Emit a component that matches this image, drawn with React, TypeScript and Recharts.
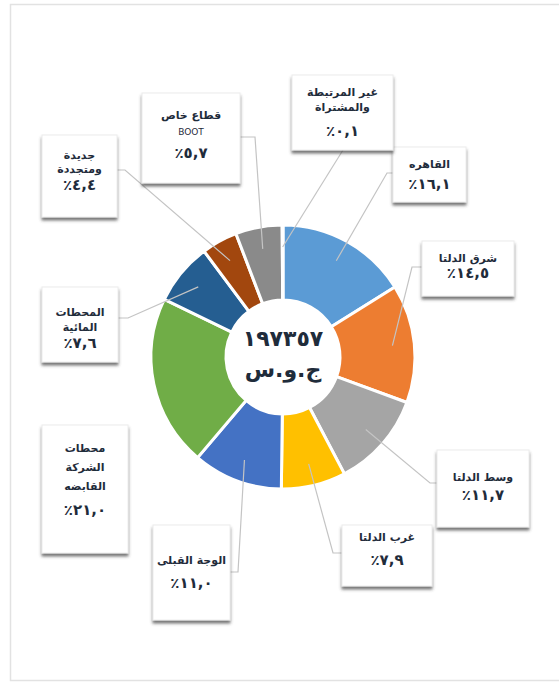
import { PieChart, Pie, Cell } from "recharts";

// share of generated energy by sector, %
const sectors = [
  "القاهره",
  "شرق الدلتا",
  "وسط الدلتا",
  "غرب الدلتا",
  "الوجة القبلى",
  "محطات الشركة القابضه",
  "المحطات المائية",
  "جديدة ومتجددة",
  "قطاع خاص BOOT",
  "غير المرتبطة والمشتراة",
];
const shares = [16.1, 14.5, 11.7, 7.9, 11.0, 21.0, 7.6, 4.4, 5.7, 0.1];
const labelLines = [
  ["القاهره"],
  ["شرق الدلتا"],
  ["وسط الدلتا"],
  ["غرب الدلتا"],
  ["الوجة القبلى"],
  ["محطات", "الشركة", "القابضه"],
  ["المحطات", "المائية"],
  ["جديدة", "ومتجددة"],
  ["قطاع خاص", "BOOT"],
  ["غير المرتبطة", "والمشتراة"],
];
const colors = [
  "#5b9bd5", "#ed7d31", "#a5a5a5", "#ffc000", "#4472c4",
  "#70ad47", "#255e91", "#a2470e", "#8a8a8a", "#997300",
];
const totalValue = "١٩٧٣٥٧";
const totalUnit = "ج.و.س";

// callout boxes: position, text rows, leader elbow
const boxes = [
  { x: 393, y: 147, w: 73, h: 55, t: 164, gap: 0, p: 184, ex: 387, ey: 173 },
  { x: 422, y: 241, w: 92, h: 55, t: 258, gap: 0, p: 273, ex: 412, ey: 267 },
  { x: 437, y: 450, w: 92, h: 77, t: 477, gap: 0, p: 495, ex: 430, ey: 483 },
  { x: 342, y: 525, w: 90, h: 61, t: 537, gap: 0, p: 560, ex: 333, ey: 553 },
  { x: 153, y: 525, w: 77, h: 95, t: 560, gap: 0, p: 583, ex: 238, ey: 572 },
  { x: 42, y: 425, w: 86, h: 128, t: 448, gap: 19, p: 510, ex: null, ey: null },
  { x: 42, y: 287, w: 76, h: 75, t: 312, gap: 15, p: 343, ex: 128, ey: 318 },
  { x: 42, y: 135, w: 75, h: 82, t: 155, gap: 14, p: 185, ex: 125, ey: 170 },
  { x: 142, y: 93, w: 98, h: 90, t: 115, gap: 17, p: 153, ex: 255, ey: 137 },
  { x: 292, y: 75, w: 101, h: 75, t: 92, gap: 15, p: 131, ex: 343, ey: 150 },
];

const data = sectors.map((name, i) => ({ name, value: shares[i] }));

const RAD = Math.PI / 180;
const FONT = "'DejaVu Sans', sans-serif";
const INK = "#1f2c3b";

function arPct(v: number) {
  const s = v.toFixed(1).replace(".", ",").replace(/\d/g, (d) => "٠١٢٣٤٥٦٧٨٩"[+d]);
  return "٪" + s;
}

function Callout(props: any) {
  const { cx, cy, midAngle, index } = props;
  const b = boxes[index];
  const r = 110;
  const sx = cx + r * Math.cos(-midAngle * RAD);
  const sy = cy + r * Math.sin(-midAngle * RAD);

  let path = "";
  if (b.ex != null) {
    let endX = b.ex;
    if (b.ex < b.x) endX = b.x;
    else if (b.ex > b.x + b.w) endX = b.x + b.w;
    path = `M${sx},${sy}L${b.ex},${b.ey}L${endX},${b.ey}`;
  }
  const mid = b.x + b.w / 2;

  return (
    <g>
      {index === 0 && (
        <g>
          <text x={cx} y={cy - 19} textAnchor="middle" dominantBaseline="central"
            style={{ fill: INK, fontSize: 22, fontWeight: 700, fontFamily: FONT }}>
            {totalValue}
          </text>
          <text x={cx} y={cy + 12} textAnchor="middle" dominantBaseline="central"
            style={{ fill: INK, fontSize: 22, fontWeight: 700, fontFamily: FONT }}>
            {totalUnit}
          </text>
        </g>
      )}
      {path && <path d={path} fill="none" stroke="#c4c4c4" strokeWidth={1.2} />}
      <rect x={b.x} y={b.y} width={b.w} height={b.h} fill="#fff" stroke="#ececec"
        strokeWidth={1} filter="url(#boxShadow)" />
      {labelLines[index].map((line, k) => (
        <text key={k} x={mid} y={b.t + k * b.gap} textAnchor="middle" dominantBaseline="central"
          style={{
            fill: INK,
            fontSize: line === "BOOT" ? 9 : 11,
            fontWeight: line === "BOOT" ? 400 : 700,
            fontFamily: FONT,
          }}>
          {line}
        </text>
      ))}
      <text x={mid} y={b.p} textAnchor="middle" dominantBaseline="central"
        style={{ fill: INK, fontSize: 15, fontWeight: 700, fontFamily: FONT }}>
        {arPct(shares[index])}
      </text>
    </g>
  );
}

export default function App() {
  return (
    <div style={{ position: "absolute", left: 0, top: 0, width: 559, height: 683, background: "#fff" }}>
      <svg width={0} height={0} style={{ position: "absolute" }}>
        <defs>
          <filter id="boxShadow" x="-20%" y="-20%" width="140%" height="150%">
            <feDropShadow dx="0" dy="3" stdDeviation="1.6" floodColor="#3c3c3c" floodOpacity="0.7" />
          </filter>
        </defs>
      </svg>
      <svg width={559} height={683} style={{ position: "absolute", left: 0, top: 0 }}>
        <rect x={10.5} y={4.5} width={560} height={676} fill="none" stroke="#e2e2e2" strokeWidth={1.5} />
      </svg>
      <div style={{ position: "absolute", left: 0, top: 0 }}>
        {/* pie cx/cy are measured inside the default 5px chart margin */}
        <PieChart width={559} height={683}>
          <Pie
            data={data}
            dataKey="value"
            nameKey="name"
            cx={278}
            cy={352}
            innerRadius={57}
            outerRadius={132}
            startAngle={90}
            endAngle={-270}
            stroke="#fff"
            strokeWidth={3}
            label={Callout}
            labelLine={false}
            isAnimationActive={false}
          >
            {data.map((d, i) => (
              <Cell key={d.name} fill={colors[i]} />
            ))}
          </Pie>
        </PieChart>
      </div>
    </div>
  );
}
